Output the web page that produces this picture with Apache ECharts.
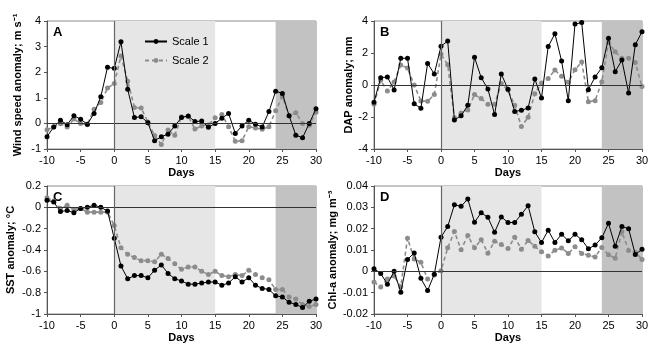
<!DOCTYPE html>
<html>
<head>
<meta charset="utf-8">
<script src="https://cdn.jsdelivr.net/npm/echarts@6/dist/echarts.min.js"></script>
<style>
  html, body { margin: 0; padding: 0; background: #fff; }
  #chart { width: 655px; height: 350px; }
</style>
</head>
<body>
<div id="chart"></div>
<script>
// days relative to event
const days = [-10, -9, -8, -7, -6, -5, -4, -3, -2, -1, 0, 1, 2, 3, 4, 5, 6, 7, 8, 9, 10,
  11, 12, 13, 14, 15, 16, 17, 18, 19, 20, 21, 22, 23, 24, 25, 26, 27, 28, 29, 30]

const windScale1 = [-0.52, -0.14, 0.12, -0.05, 0.3, 0.16, -0.03, 0.39, 1.04, 2.19, 2.15,
  3.19, 1.33, 0.23, 0.26, 0.03, -0.68, -0.52, -0.42, -0.1, 0.23,
  0.29, 0.07, 0.09, -0.15, 0.0, 0.2, 0.39, -0.39, -0.1, 0.12,
  -0.03, -0.14, 0.46, 1.26, 1.17, 0.3, -0.46, -0.56, 0.0, 0.57]
const windScale2 = [-0.25, -0.14, -0.01, -0.14, 0.17, 0.0, -0.05, 0.55, 0.82, 1.38, 1.56,
  2.63, 1.65, 0.62, 0.6, 0.05, -0.47, -0.82, -0.26, -0.46, 0.26,
  0.27, -0.22, -0.1, -0.06, 0.22, 0.35, -0.13, -0.7, -0.68, -0.13,
  -0.18, -0.23, -0.13, 0.49, 1.05, 0.29, 0.42, 0.0, -0.07, 0.44]

const dapScale1 = [-1.08, 0.46, 0.5, -0.31, 1.67, 1.67, -1.17, -1.46, 1.35, 0.69, 2.42,
  2.75, -2.19, -1.92, -1.27, 1.73, 0.46, -0.25, -1.85, 0.69, -0.27,
  -1.65, -1.58, -1.44, 0.38, -0.81, 2.4, 3.21, 1.5, -0.98, 3.81,
  3.9, -0.29, 0.5, 1.08, 2.92, 0.83, 1.56, -0.5, 2.52, 3.33]
const dapScale2 = [-1.21, 0.29, -0.38, 0.19, 1.25, 1.06, 0.0, -1.0, -1.02, -0.6, 1.92,
  1.27, -2.04, -1.75, -1.56, -0.6, -0.85, -1.21, -1.21, 0.1, -0.31,
  -1.27, -2.6, -2.02, -0.54, 0.13, 0.4, 0.94, 0.54, 0.17, 0.96,
  1.44, -1.04, -0.98, 0.21, 2.65, 2.08, 1.67, 1.67, 1.4, -0.1]

const sstScale1 = [0.066, 0.05, -0.04, -0.03, -0.05, -0.01, 0.0, 0.02, 0.0, -0.035, -0.29,
  -0.55, -0.67, -0.64, -0.64, -0.66, -0.59, -0.54, -0.62, -0.67, -0.69,
  -0.72, -0.72, -0.71, -0.7, -0.7, -0.73, -0.71, -0.65, -0.7, -0.66,
  -0.73, -0.76, -0.77, -0.83, -0.84, -0.89, -0.91, -0.94, -0.88, -0.86]
const sstScale2 = [0.09, 0.06, -0.01, 0.02, -0.02, -0.01, -0.045, -0.045, -0.045, -0.045, -0.17,
  -0.38, -0.44, -0.47, -0.5, -0.5, -0.51, -0.44, -0.48, -0.53, -0.58,
  -0.56, -0.56, -0.6, -0.63, -0.6, -0.64, -0.65, -0.63, -0.64, -0.59,
  -0.63, -0.66, -0.68, -0.77, -0.77, -0.84, -0.86, -0.91, -0.93, -0.91]

const chlScale1 = [0.0012, -0.001, -0.006, 0.0, -0.0098, 0.0056, 0.0086, -0.0033, -0.009, -0.0014, 0.016,
  0.021, 0.0312, 0.0305, 0.0339, 0.023, 0.0275, 0.0253, 0.0183, 0.0255, 0.0229,
  0.0229, 0.0267, 0.0308, 0.0185, 0.0135, 0.0193, 0.0135, 0.0174, 0.0143, 0.0174,
  0.0148, 0.0106, 0.0123, 0.0157, 0.0225, 0.0118, 0.021, 0.02, 0.0079, 0.0103]
const chlScale2 = [-0.005, -0.0073, -0.0036, -0.0022, -0.0072, 0.0155, 0.0058, 0.0042, -0.0036, -0.0017, 0.0003,
  0.011, 0.0187, 0.0101, 0.0168, 0.011, 0.0148, 0.0085, 0.0141, 0.0126, 0.0107,
  0.016, 0.0103, 0.0145, 0.0117, 0.0092, 0.0072, 0.0099, 0.0109, 0.0084, 0.0115,
  0.0084, 0.0075, 0.0067, 0.0112, 0.0078, 0.0061, 0.0185, 0.0098, 0.009, 0.0056]

// shaded periods (days)
const lightPeriod = [0, 15]
const darkPeriod = [24, 30]

const FONT = 'Liberation Sans, Arial, sans-serif'

const panels = [
  { label: 'A', name: 'Wind speed anomaly; m s\u207B\u00B9', s1: windScale1, s2: windScale2,
    min: -1, max: 4, interval: 1, nameGap: 24, grid: { left: 47, top: 21, width: 269, height: 128 } },
  { label: 'B', name: 'DAP anomaly; mm', s1: dapScale1, s2: dapScale2,
    min: -4, max: 4, interval: 2, nameGap: 20, grid: { left: 374, top: 21, width: 268, height: 128 } },
  { label: 'C', name: 'SST anomaly; \u00B0C', s1: sstScale1, s2: sstScale2,
    min: -1, max: 0.2, interval: 0.2, nameGap: 31, grid: { left: 47, top: 186, width: 269, height: 128 } },
  { label: 'D', name: 'Chl-a anomaly; mg m\u207B\u00B3', s1: chlScale1, s2: chlScale2,
    min: -0.02, max: 0.04, interval: 0.01, nameGap: 36, grid: { left: 374, top: 186, width: 268, height: 128 } }
]

const grids = []
const xAxes = []
const yAxes = []
const series = []
const graphics = []

panels.forEach((p, i) => {
  grids.push(Object.assign({ show: true, borderColor: '#8c8c8c', borderWidth: 1 }, p.grid))
  xAxes.push({
    type: 'value', gridIndex: i, min: -10, max: 30, interval: 5,
    name: 'Days', nameLocation: 'middle', nameGap: 18,
    nameTextStyle: { fontFamily: FONT, fontWeight: 'bold', fontSize: 11, color: '#000' },
    axisLine: { onZero: false, lineStyle: { color: '#555', width: 1 } },
    axisTick: { show: true, length: 3, lineStyle: { color: '#555' } },
    axisLabel: { fontFamily: FONT, fontSize: 11, color: '#000', margin: 6 },
    splitLine: { show: false }
  })
  yAxes.push({
    type: 'value', gridIndex: i, min: p.min, max: p.max, interval: p.interval,
    name: p.name, nameLocation: 'middle', nameGap: p.nameGap,
    nameTextStyle: { fontFamily: FONT, fontWeight: 'bold', fontSize: 11, color: '#000' },
    axisLine: { show: true, onZero: false, lineStyle: { color: '#555', width: 1 } },
    axisTick: { show: true, length: 3, lineStyle: { color: '#555' } },
    axisLabel: { fontFamily: FONT, fontSize: 11, color: '#000', margin: 6 },
    splitLine: { show: false }
  })
  series.push({
    name: 'Scale 1', type: 'line', xAxisIndex: i, yAxisIndex: i, z: 4,
    data: days.map((d, k) => [d, p.s1[k]]),
    symbol: 'circle', symbolSize: 5,
    itemStyle: { color: '#000' },
    lineStyle: { color: '#000', width: 1 },
    markArea: {
      silent: true,
      data: [
        [{ xAxis: lightPeriod[0], itemStyle: { color: '#e6e6e6' } }, { xAxis: lightPeriod[1] }],
        [{ xAxis: darkPeriod[0], itemStyle: { color: '#c2c2c2' } }, { xAxis: darkPeriod[1] }]
      ]
    },
    markLine: {
      silent: true, symbol: 'none', label: { show: false },
      data: [
        { yAxis: 0, lineStyle: { color: '#333', width: 1, type: 'solid' } },
        { xAxis: 0, lineStyle: { color: '#666', width: 1.2, type: 'solid' } }
      ]
    },
    animation: false
  })
  series.push({
    name: 'Scale 2', type: 'line', xAxisIndex: i, yAxisIndex: i, z: 3,
    data: days.map((d, k) => [d, p.s2[k]]),
    symbol: 'circle', symbolSize: 5,
    itemStyle: { color: '#8c8c8c' },
    lineStyle: { color: '#8c8c8c', width: 1.6, type: [4, 3] },
    animation: false
  })
  graphics.push({
    type: 'text', left: p.grid.left + 6, top: p.grid.top + 5,
    style: { text: p.label, font: 'bold 13px ' + FONT, fill: '#000' }
  })
})

const chart = echarts.init(document.getElementById('chart'))
chart.setOption({
  animation: false,
  grid: grids,
  xAxis: xAxes,
  yAxis: yAxes,
  series: series,
  graphic: graphics,
  legend: {
    data: ['Scale 1', 'Scale 2'],
    orient: 'vertical', left: 139, top: 31,
    itemWidth: 22, itemHeight: 6, itemGap: 8,
    textStyle: { fontFamily: FONT, fontSize: 11, color: '#000' }
  }
})
</script>
</body>
</html>
